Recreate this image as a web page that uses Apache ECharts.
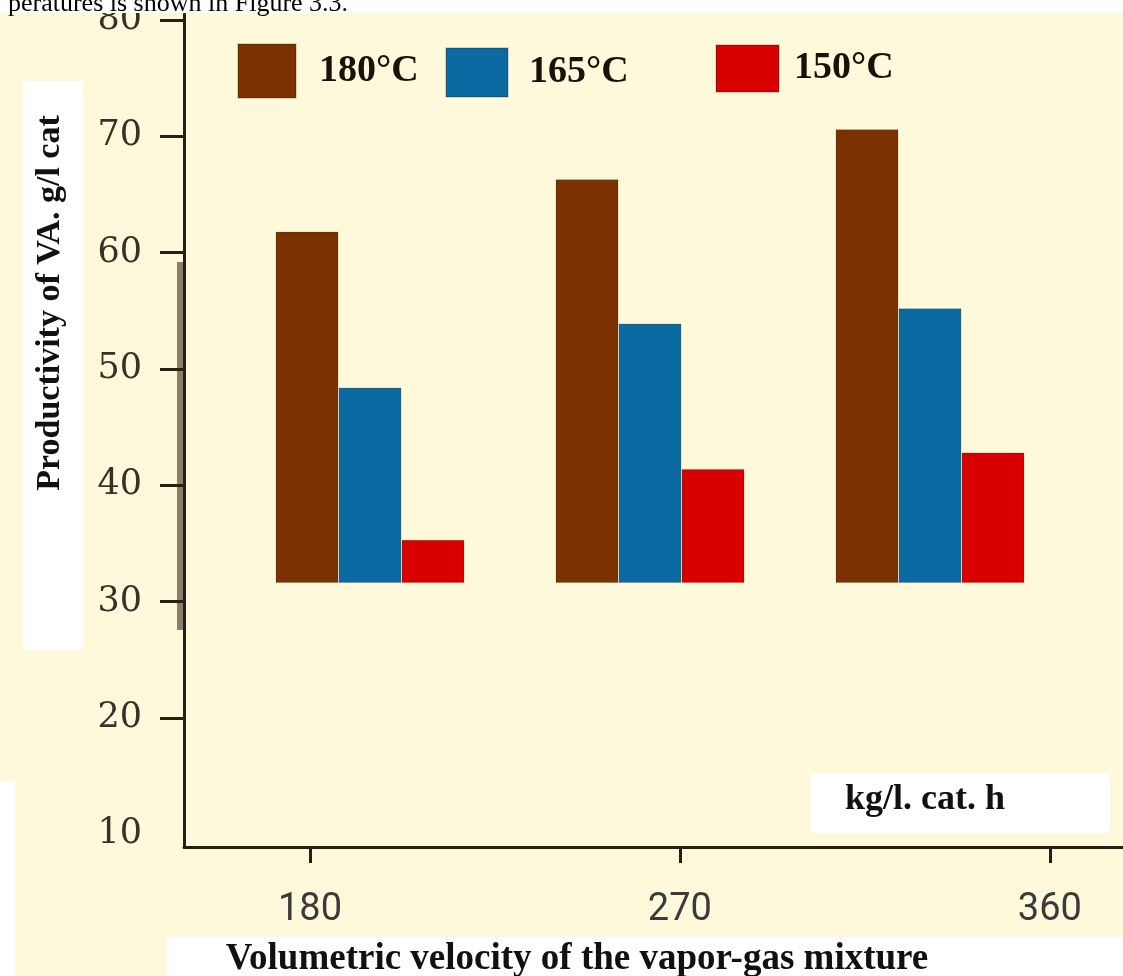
<!DOCTYPE html>
<html>
<head>
<meta charset="utf-8">
<script src="https://cdn.jsdelivr.net/npm/echarts@6/dist/echarts.min.js"></script>
<style>
  body { margin: 0; }
</style>
</head>
<body>
<div id="main" style="width: 1123px; height: 976px"></div>
<script>
// values
var categories = ["180", "270", "360"];
var legendNames = ["180°C", "165°C", "150°C"];
var prod180 = [61.8, 66.3, 70.6];
var prod165 = [48.4, 53.9, 55.2];
var prod150 = [35.3, 41.4, 42.8];
var barBase = [31.6, 31.6, 31.6];
var yTicks = [10, 20, 30, 40, 50, 60, 70, 80];
var xTicks = [180, 270, 360];

var colors = ["#7a3300", "#0b6aa1", "#d80000"];
var serif = "Liberation Serif";

function above(values) {
  return values.map(function (v, i) {
    return +(v - barBase[i]).toFixed(2);
  });
}

function pair(name, stack, values, color) {
  return [
    {
      name: "base" + stack,
      type: "bar",
      stack: stack,
      barWidth: 63,
      barGap: "0%",
      silent: true,
      itemStyle: { color: "transparent" },
      data: barBase,
    },
    {
      name: name,
      type: "bar",
      stack: stack,
      barWidth: 63,
      barGap: "0%",
      itemStyle: { color: color, borderColor: "rgba(0,0,0,0.15)", borderWidth: 1 },
      data: above(values),
    },
  ];
}

function legendAt(name, left, top, w, h, gap) {
  return {
    data: [name],
    left: left,
    top: top,
    icon: "rect",
    itemWidth: w,
    itemHeight: h,
    selectedMode: false,
    textStyle: {
      fontFamily: serif,
      fontWeight: "bold",
      fontSize: 38,
      color: "#1a1208",
      padding: [0, 0, 0, gap],
    },
  };
}

var option = {
  backgroundColor: "#fff9db",
  animation: false,
  legend: [
    legendAt(legendNames[0], 232, 38, 58, 54, 18),
    legendAt(legendNames[1], 440, 42, 62, 49, 16),
    legendAt(legendNames[2], 710, 39, 63, 47, 10),
  ],
  grid: [
    { left: 230, right: 53, top: 14, bottom: 129, outerBoundsMode: "none" },
    { left: 184, right: 0, top: 14, bottom: 129, outerBoundsMode: "none" },
  ],
  xAxis: [
    { gridIndex: 0, type: "category", data: categories, show: false },
    {
      gridIndex: 1,
      type: "value",
      min: 149.35,
      max: 377.8,
      splitLine: { show: false },
      axisLine: { lineStyle: { color: "#2a1e12", width: 3 } },
      axisTick: {
        customValues: xTicks,
        length: 16,
        lineStyle: { color: "#2a1e12", width: 3 },
      },
      axisLabel: {
        customValues: xTicks,
        margin: 44,
        fontFamily: "Roboto",
        fontSize: 38,
        color: "#3a3a3a",
      },
    },
  ],
  yAxis: [
    { gridIndex: 0, type: "value", min: 8.9, max: 80.5, show: false },
    {
      gridIndex: 1,
      type: "value",
      min: 8.9,
      max: 80.5,
      splitLine: { show: false },
      axisLine: { show: true, lineStyle: { color: "#2a1e12", width: 3 } },
      axisTick: {
        show: true,
        customValues: yTicks.slice(1),
        length: 24,
        lineStyle: { color: "#2a1e12", width: 3 },
      },
      axisLabel: {
        customValues: yTicks,
        margin: 42,
        fontFamily: "DejaVu Serif",
        fontSize: 35,
        color: "#3a3028",
      },
    },
  ],
  graphic: [
    { type: "rect", z: -1, shape: { x: 23, y: 81, width: 60, height: 569 }, style: { fill: "#ffffff" } },
    { type: "rect", z: -1, shape: { x: 0, y: 781, width: 15, height: 195 }, style: { fill: "#ffffff" } },
    { type: "rect", z: -1, shape: { x: 167, y: 937, width: 956, height: 39 }, style: { fill: "#ffffff" } },
    { type: "rect", z: -1, shape: { x: 810, y: 773, width: 300, height: 60 }, style: { fill: "#ffffff" } },
    { type: "rect", z: -1, shape: { x: 177, y: 262, width: 7, height: 368 }, style: { fill: "#8c7f6a" } },
    { type: "rect", z: 100, shape: { x: 0, y: 0, width: 1123, height: 13 }, style: { fill: "#ffffff" } },
    {
      type: "text",
      z: 101,
      x: 8,
      y: 17,
      style: {
        text: "peratures is shown in Figure 3.3.",
        font: '26px "Liberation Serif"',
        fill: "#000",
        textVerticalAlign: "bottom",
      },
    },
    {
      type: "text",
      x: 50,
      y: 303,
      rotation: Math.PI / 2,
      style: {
        text: "Productivity of VA. g/l cat",
        font: 'bold 34px "Liberation Serif"',
        fill: "#111",
        textAlign: "center",
        textVerticalAlign: "middle",
      },
    },
    {
      type: "text",
      x: 577,
      y: 959,
      style: {
        text: "Volumetric velocity of the vapor-gas mixture",
        font: 'bold 37px "Liberation Serif"',
        fill: "#111",
        textAlign: "center",
        textVerticalAlign: "middle",
      },
    },
    {
      type: "text",
      x: 845,
      y: 800,
      style: {
        text: "kg/l. cat. h",
        font: 'bold 36px "Liberation Serif"',
        fill: "#111",
        textVerticalAlign: "middle",
      },
    },
  ],
  series: []
    .concat(pair(legendNames[0], "a", prod180, colors[0]))
    .concat(pair(legendNames[1], "b", prod165, colors[1]))
    .concat(pair(legendNames[2], "c", prod150, colors[2])),
};

var myChart = echarts.init(document.getElementById("main"));
myChart.setOption(option);
</script>
</body>
</html>
